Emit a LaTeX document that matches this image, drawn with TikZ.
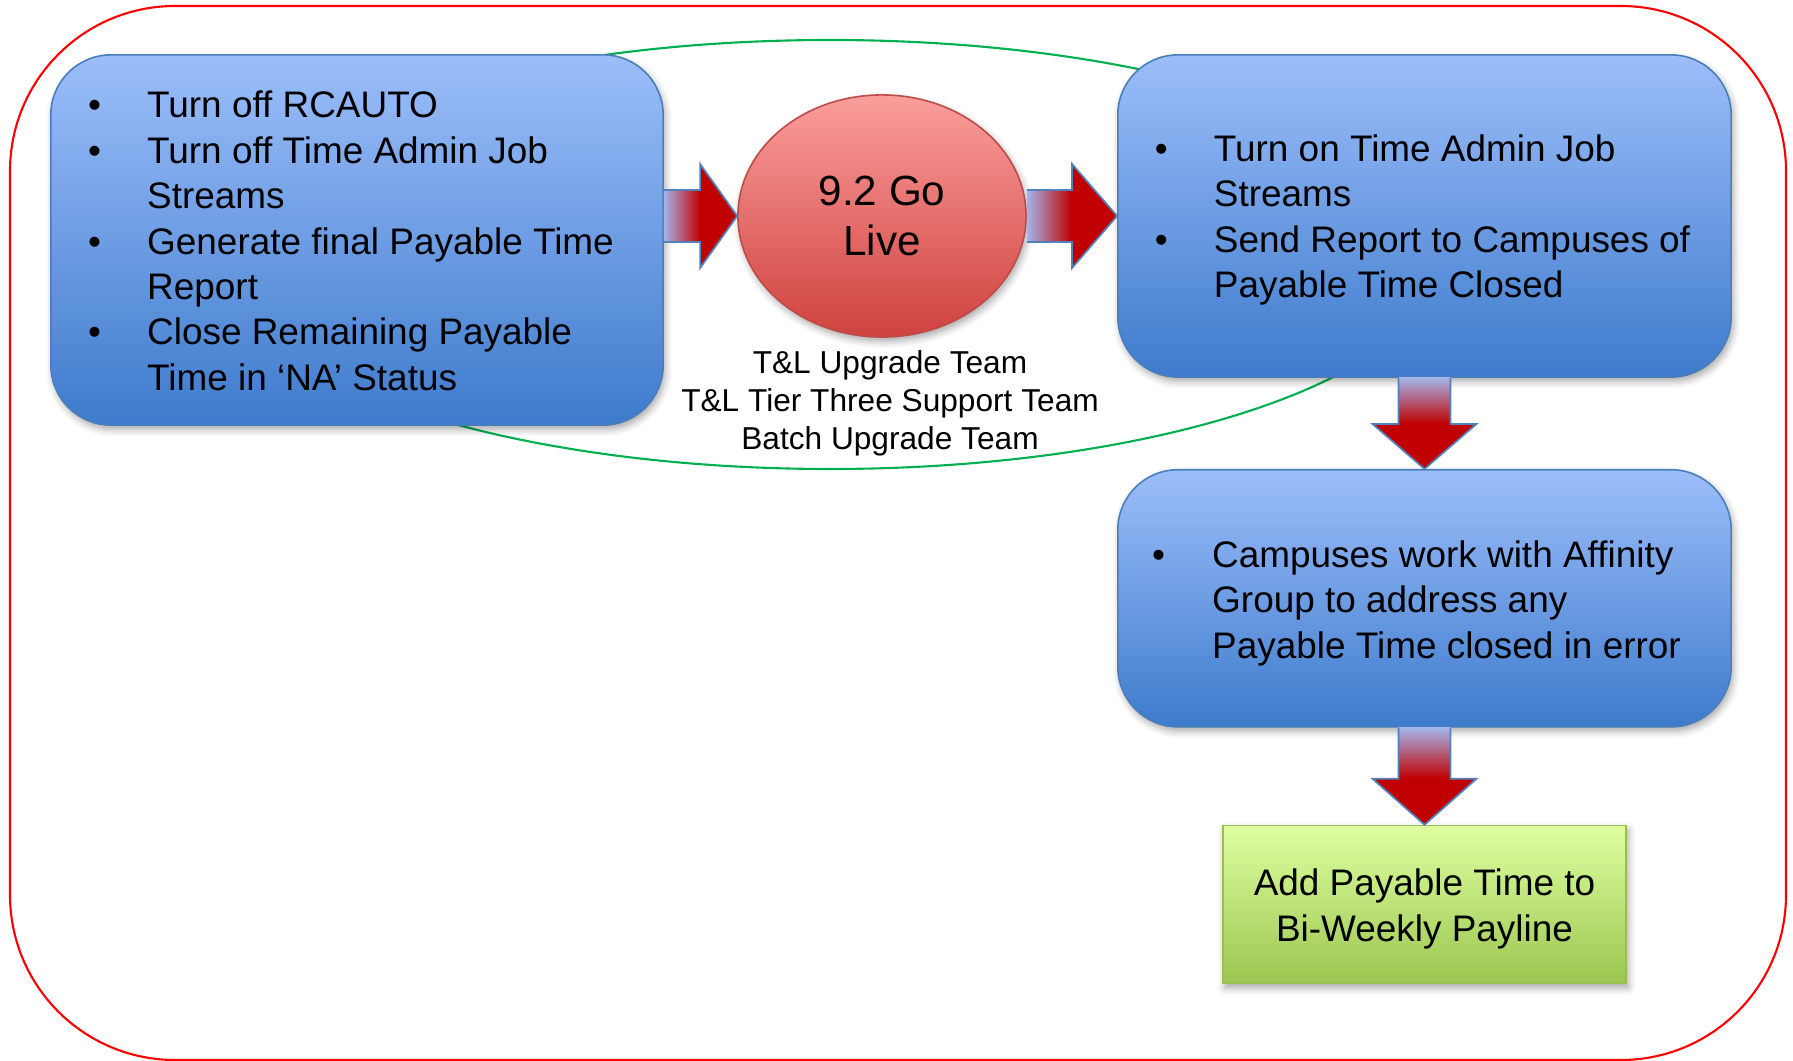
\documentclass[tikz,border=0pt]{standalone}
\usepackage{fontspec}
\setmainfont{Liberation Sans}
\usepackage{xcolor}
\usetikzlibrary{shapes.geometric,positioning,calc,shadows.blur}

\definecolor{boxTop}{RGB}{156,190,250}
\definecolor{boxBot}{RGB}{62,123,204}
\definecolor{boxLine}{RGB}{74,126,187}
\definecolor{liveTop}{RGB}{251,158,156}
\definecolor{liveBot}{RGB}{206,66,62}
\definecolor{liveLine}{RGB}{190,75,72}
\definecolor{addTop}{RGB}{222,255,160}
\definecolor{addBot}{RGB}{155,198,80}
\definecolor{addLine}{RGB}{155,187,89}
\definecolor{arrBlue}{RGB}{164,180,234}
\definecolor{arrRed}{RGB}{192,0,0}
\definecolor{arrLine}{RGB}{79,129,189}
\definecolor{teamGreen}{RGB}{0,176,80}

% block arrows: start, tip, head length
\newcommand{\blockArrowH}[3]{%
  \shade[left color=arrBlue, right color=arrRed] ($(#1)+(0,-26)$) rectangle ($(#2)+(-#3,26)$);
  \fill[arrRed] ($(#2)+(-#3,-52)$) -- (#2) -- ($(#2)+(-#3,52)$) -- cycle;
  \draw[arrLine, line width=0.5pt] ($(#1)+(0,-26)$) -- ($(#2)+(-#3,-26)$) -- ($(#2)+(-#3,-52)$) -- (#2)
    -- ($(#2)+(-#3,52)$) -- ($(#2)+(-#3,26)$) -- ($(#1)+(0,26)$);}
\newcommand{\blockArrowV}[3]{%
  \shade[top color=arrBlue, bottom color=arrRed] ($(#1)+(-26,0)$) rectangle ($(#2)+(26,-#3)$);
  \fill[arrRed] ($(#2)+(-52,-#3)$) -- (#2) -- ($(#2)+(52,-#3)$) -- cycle;
  \draw[arrLine, line width=0.5pt] ($(#1)+(-26,0)$) -- ($(#2)+(-26,-#3)$) -- ($(#2)+(-52,-#3)$) -- (#2)
    -- ($(#2)+(52,-#3)$) -- ($(#2)+(26,-#3)$) -- ($(#1)+(26,0)$);}
% move box text: right, down
\newcommand{\nudge}[3]{\hspace*{#1}\raisebox{-#2}[\height][\depth]{#3}\hspace*{-#1}}

\begin{document}
\begin{tikzpicture}[x=0.01cm, y=-0.01cm,
  boxShadow/.style={blur shadow={shadow xshift=0.6pt, shadow yshift=-1.2pt, shadow blur radius=2pt, shadow opacity=35}},
  blueBox/.style={draw=boxLine, line width=0.45pt, rounded corners=0.6cm, top color=boxTop, bottom color=boxBot,
    boxShadow, inner sep=0pt, minimum width=6.13cm, font=\fontsize{10.5}{12.9}\selectfont}]
  \useasboundingbox (0,0) rectangle (1793,1061);

  % outer frame and team ring
  \draw[red, line width=0.6pt, rounded corners=1.65cm] (10,6) rectangle (1786,1060);
  \draw[teamGreen, line width=0.6pt] (830,254.5) ellipse [x radius=613, y radius=214.5];

  % before go live
  \node[blueBox, minimum width=6.12cm, minimum height=3.70cm] (boxOff) at (357,240) {\nudge{-0.06cm}{0.05cm}{%
    \begin{tabular}{@{}p{0.59cm}@{}l@{}}
      \textbullet & Turn off RCAUTO\\
      \textbullet & Turn off Time Admin Job\\
                  & Streams\\
      \textbullet & Generate final Payable Time\\
                  & Report\\
      \textbullet & Close Remaining Payable\\
                  & Time in ‘NA’ Status
    \end{tabular}}};

  % go live and teams
  \node[ellipse, draw=liveLine, line width=0.45pt, top color=liveTop, bottom color=liveBot, boxShadow,
    minimum width=2.88cm, minimum height=2.42cm, inner sep=0pt, align=center,
    font=\fontsize{12}{14.2}\selectfont] (goLive) at (882,216) {9.2 Go\\Live};
  \node[below=0.12cm of goLive, xshift=0.08cm, inner sep=0pt, align=center,
    font=\fontsize{9}{10.8}\selectfont] (teams) {T\&L Upgrade Team\\T\&L Tier Three Support Team\\Batch Upgrade Team};

  % after go live
  \node[blueBox, minimum height=3.22cm] (boxOn) at (1424.5,216) {\nudge{-0.02cm}{0.045cm}{%
    \begin{tabular}{@{}p{0.59cm}@{}l@{}}
      \textbullet & Turn on Time Admin Job\\
                  & Streams\\
      \textbullet & Send Report to Campuses of\\
                  & Payable Time Closed
    \end{tabular}}};
  \node[blueBox, minimum height=2.57cm, below=0.91cm of boxOn] (boxFix) {\nudge{-0.08cm}{0.055cm}{%
    \begin{tabular}{@{}p{0.6cm}@{}l@{}}
      \textbullet & Campuses work with Affinity\\
                  & Group to address any\\
                  & Payable Time closed in error
    \end{tabular}}};
  \node[draw=addLine, line width=0.45pt, top color=addTop, bottom color=addBot, boxShadow,
    minimum width=4.03cm, minimum height=1.58cm, inner sep=0pt, align=center,
    font=\fontsize{10.5}{13.1}\selectfont, below=0.97cm of boxFix] (boxAdd)
    {\nudge{0cm}{0.045cm}{\begin{tabular}{@{}c@{}}Add Payable Time to\\Bi-Weekly Payline\end{tabular}}};

  % arrows
  \blockArrowH{boxOff.east |- goLive.west}{goLive.west}{37}
  \blockArrowH{goLive.east}{boxOn.west |- goLive.east}{45}
  \blockArrowV{boxOn.south}{boxFix.north}{45}
  \blockArrowV{boxFix.south}{boxAdd.north}{46}
\end{tikzpicture}
\end{document}
